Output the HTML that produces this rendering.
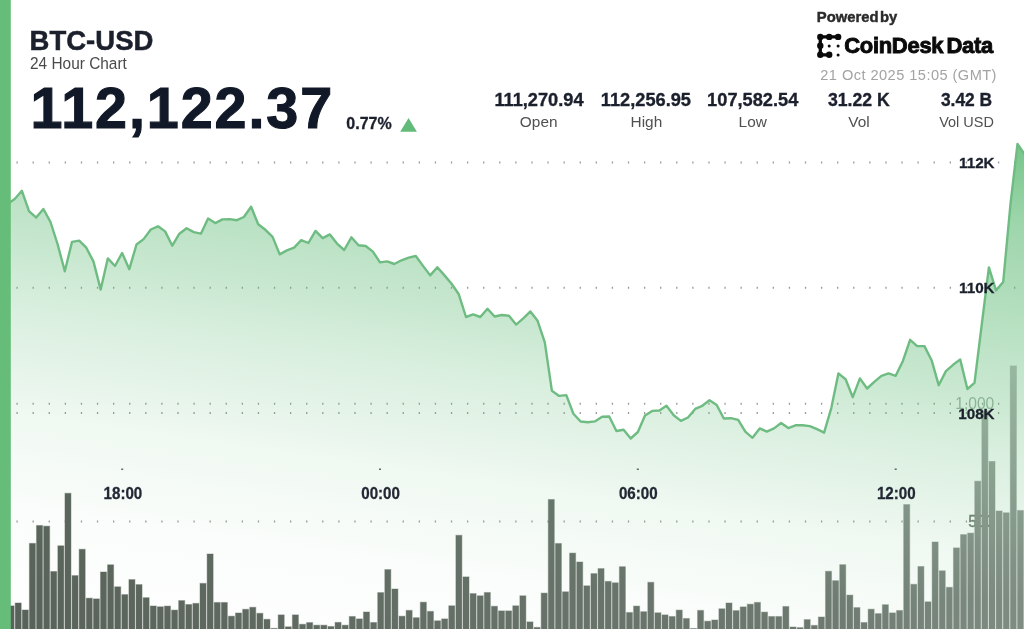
<!DOCTYPE html>
<html><head><meta charset="utf-8"><title>BTC-USD 24 Hour Chart</title>
<style>
html,body{margin:0;padding:0;background:#fff;}
body{width:1024px;height:629px;overflow:hidden;font-family:'Liberation Sans', Arial, sans-serif;}
svg{display:block;}
text{font-family:'Liberation Sans', Arial, sans-serif;}
.b{font-weight:700;}
</style></head><body>
<svg width="1024" height="629" viewBox="0 0 1024 629">
<defs>
<linearGradient id="ag" gradientUnits="userSpaceOnUse" x1="1017" y1="144" x2="930" y2="737">
<stop offset="0" stop-color="#5dba74" stop-opacity="0.84"/>
<stop offset="0.13" stop-color="#5dba74" stop-opacity="0.6"/>
<stop offset="0.4157" stop-color="#5dba74" stop-opacity="0.335"/>
<stop offset="0.514" stop-color="#5dba74" stop-opacity="0.232"/>
<stop offset="0.6135" stop-color="#5dba74" stop-opacity="0.155"/>
<stop offset="0.685" stop-color="#5dba74" stop-opacity="0.095"/>
<stop offset="0.845" stop-color="#5dba74" stop-opacity="0.03"/>
<stop offset="1" stop-color="#5dba74" stop-opacity="0.01"/>
</linearGradient>
<linearGradient id="bg" gradientUnits="userSpaceOnUse" x1="0" y1="0" x2="1024" y2="0">
<stop offset="0" stop-color="#586159"/>
<stop offset="0.8" stop-color="#6e7770"/>
<stop offset="1" stop-color="#808a82"/>
</linearGradient>
<linearGradient id="bw" gradientUnits="userSpaceOnUse" x1="0" y1="360" x2="0" y2="600">
<stop offset="0" stop-color="#fff" stop-opacity="0.28"/>
<stop offset="1" stop-color="#fff" stop-opacity="0"/>
</linearGradient>
</defs>
<rect width="1024" height="629" fill="#fff"/>
<!-- volume axis labels (behind bars) -->
<text x="994.3" y="409" text-anchor="end" font-size="15.6" fill="#9fb0a3">1,000</text>
<text x="994.3" y="527" text-anchor="end" font-size="15.6" fill="#6f7c71" stroke="#6f7c71" stroke-width="0.4">500</text>
<!-- grid -->
<line x1="16.450000000000003" y1="162.5" x2="1024" y2="162.5" stroke="#9a9a9a" stroke-width="2" stroke-dasharray="1.3 14.79"/>
<line x1="16.450000000000003" y1="287.7" x2="1024" y2="287.7" stroke="#9a9a9a" stroke-width="2" stroke-dasharray="1.3 14.79"/>
<line x1="16.450000000000003" y1="403.8" x2="1024" y2="403.8" stroke="#9a9a9a" stroke-width="2" stroke-dasharray="1.3 14.79"/>
<line x1="16.450000000000003" y1="413" x2="1024" y2="413" stroke="#9a9a9a" stroke-width="2" stroke-dasharray="1.3 14.79"/>
<line x1="16.450000000000003" y1="521.6" x2="1024" y2="521.6" stroke="#9a9a9a" stroke-width="2" stroke-dasharray="1.3 14.79"/>
<!-- bars -->
<g fill="url(#bg)" stroke="url(#bg)" stroke-opacity="0.38" stroke-width="1.1">
<rect x="8.09" y="605.9" width="6.0" height="34.1"/>
<rect x="15.20" y="603.0" width="6.0" height="37.0"/>
<rect x="22.31" y="610.0" width="6.0" height="30.0"/>
<rect x="29.42" y="543.4" width="6.0" height="96.6"/>
<rect x="36.52" y="525.5" width="6.0" height="114.5"/>
<rect x="43.63" y="526.2" width="6.0" height="113.8"/>
<rect x="50.74" y="571.5" width="6.0" height="68.5"/>
<rect x="57.85" y="545.8" width="6.0" height="94.2"/>
<rect x="64.96" y="493.3" width="6.0" height="146.7"/>
<rect x="72.06" y="575.6" width="6.0" height="64.4"/>
<rect x="79.17" y="549.3" width="6.0" height="90.7"/>
<rect x="86.28" y="598.2" width="6.0" height="41.8"/>
<rect x="93.39" y="598.9" width="6.0" height="41.1"/>
<rect x="100.50" y="572.0" width="6.0" height="68.0"/>
<rect x="107.60" y="564.8" width="6.0" height="75.2"/>
<rect x="114.71" y="586.8" width="6.0" height="53.2"/>
<rect x="121.82" y="594.6" width="6.0" height="45.4"/>
<rect x="128.93" y="579.6" width="6.0" height="60.4"/>
<rect x="136.04" y="584.6" width="6.0" height="55.4"/>
<rect x="143.14" y="597.7" width="6.0" height="42.3"/>
<rect x="150.25" y="606.0" width="6.0" height="34.0"/>
<rect x="157.36" y="606.8" width="6.0" height="33.2"/>
<rect x="164.47" y="606.1" width="6.0" height="33.9"/>
<rect x="171.58" y="610.1" width="6.0" height="29.9"/>
<rect x="178.68" y="600.6" width="6.0" height="39.4"/>
<rect x="185.79" y="604.5" width="6.0" height="35.5"/>
<rect x="192.90" y="603.4" width="6.0" height="36.6"/>
<rect x="200.01" y="583.4" width="6.0" height="56.6"/>
<rect x="207.12" y="554.0" width="6.0" height="86.0"/>
<rect x="214.22" y="602.5" width="6.0" height="37.5"/>
<rect x="221.33" y="602.5" width="6.0" height="37.5"/>
<rect x="228.44" y="616.2" width="6.0" height="23.8"/>
<rect x="235.55" y="613.0" width="6.0" height="27.0"/>
<rect x="242.66" y="609.3" width="6.0" height="30.7"/>
<rect x="249.76" y="607.3" width="6.0" height="32.7"/>
<rect x="256.87" y="613.3" width="6.0" height="26.7"/>
<rect x="263.98" y="619.3" width="6.0" height="20.7"/>
<rect x="271.09" y="628.4" width="6.0" height="11.6"/>
<rect x="278.20" y="614.9" width="6.0" height="25.1"/>
<rect x="285.30" y="626.8" width="6.0" height="13.2"/>
<rect x="292.41" y="614.9" width="6.0" height="25.1"/>
<rect x="299.52" y="624.3" width="6.0" height="15.7"/>
<rect x="306.63" y="622.6" width="6.0" height="17.4"/>
<rect x="313.74" y="625.2" width="6.0" height="14.8"/>
<rect x="320.84" y="625.2" width="6.0" height="14.8"/>
<rect x="327.95" y="626.5" width="6.0" height="13.5"/>
<rect x="335.06" y="622.4" width="6.0" height="17.6"/>
<rect x="342.17" y="625.2" width="6.0" height="14.8"/>
<rect x="349.28" y="616.5" width="6.0" height="23.5"/>
<rect x="356.38" y="618.9" width="6.0" height="21.1"/>
<rect x="363.49" y="612.0" width="6.0" height="28.0"/>
<rect x="370.60" y="622.5" width="6.0" height="17.5"/>
<rect x="377.71" y="592.6" width="6.0" height="47.4"/>
<rect x="384.82" y="569.6" width="6.0" height="70.4"/>
<rect x="391.92" y="589.0" width="6.0" height="51.0"/>
<rect x="399.03" y="616.2" width="6.0" height="23.8"/>
<rect x="406.14" y="610.4" width="6.0" height="29.6"/>
<rect x="413.25" y="617.7" width="6.0" height="22.3"/>
<rect x="420.36" y="602.2" width="6.0" height="37.8"/>
<rect x="427.46" y="611.4" width="6.0" height="28.6"/>
<rect x="434.57" y="620.8" width="6.0" height="19.2"/>
<rect x="441.68" y="618.9" width="6.0" height="21.1"/>
<rect x="448.79" y="605.8" width="6.0" height="34.2"/>
<rect x="455.90" y="535.3" width="6.0" height="104.7"/>
<rect x="463.00" y="576.9" width="6.0" height="63.1"/>
<rect x="470.11" y="593.6" width="6.0" height="46.4"/>
<rect x="477.22" y="595.8" width="6.0" height="44.2"/>
<rect x="484.33" y="592.5" width="6.0" height="47.5"/>
<rect x="491.44" y="606.3" width="6.0" height="33.7"/>
<rect x="498.54" y="610.9" width="6.0" height="29.1"/>
<rect x="505.65" y="610.9" width="6.0" height="29.1"/>
<rect x="512.76" y="605.8" width="6.0" height="34.2"/>
<rect x="519.87" y="595.8" width="6.0" height="44.2"/>
<rect x="526.98" y="621.9" width="6.0" height="18.1"/>
<rect x="534.08" y="627.4" width="6.0" height="12.6"/>
<rect x="541.19" y="593.1" width="6.0" height="46.9"/>
<rect x="548.30" y="499.5" width="6.0" height="140.5"/>
<rect x="555.41" y="543.5" width="6.0" height="96.5"/>
<rect x="562.52" y="591.8" width="6.0" height="48.2"/>
<rect x="569.62" y="553.1" width="6.0" height="86.9"/>
<rect x="576.73" y="562.0" width="6.0" height="78.0"/>
<rect x="583.84" y="585.8" width="6.0" height="54.2"/>
<rect x="590.95" y="573.6" width="6.0" height="66.4"/>
<rect x="598.06" y="568.6" width="6.0" height="71.4"/>
<rect x="605.16" y="581.4" width="6.0" height="58.6"/>
<rect x="612.27" y="582.8" width="6.0" height="57.2"/>
<rect x="619.38" y="566.7" width="6.0" height="73.3"/>
<rect x="626.49" y="612.5" width="6.0" height="27.5"/>
<rect x="633.60" y="606.1" width="6.0" height="33.9"/>
<rect x="640.70" y="611.7" width="6.0" height="28.3"/>
<rect x="647.81" y="582.3" width="6.0" height="57.7"/>
<rect x="654.92" y="612.8" width="6.0" height="27.2"/>
<rect x="662.03" y="614.9" width="6.0" height="25.1"/>
<rect x="669.14" y="616.5" width="6.0" height="23.5"/>
<rect x="676.24" y="610.1" width="6.0" height="29.9"/>
<rect x="683.35" y="618.5" width="6.0" height="21.5"/>
<rect x="690.46" y="628.5" width="6.0" height="11.5"/>
<rect x="697.57" y="610.4" width="6.0" height="29.6"/>
<rect x="704.68" y="621.2" width="6.0" height="18.8"/>
<rect x="711.78" y="620.0" width="6.0" height="20.0"/>
<rect x="718.89" y="608.8" width="6.0" height="31.2"/>
<rect x="726.00" y="603.0" width="6.0" height="37.0"/>
<rect x="733.11" y="610.6" width="6.0" height="29.4"/>
<rect x="740.22" y="606.9" width="6.0" height="33.1"/>
<rect x="747.32" y="604.2" width="6.0" height="35.8"/>
<rect x="754.43" y="602.4" width="6.0" height="37.6"/>
<rect x="761.54" y="612.1" width="6.0" height="27.9"/>
<rect x="768.65" y="616.5" width="6.0" height="23.5"/>
<rect x="775.76" y="616.5" width="6.0" height="23.5"/>
<rect x="782.86" y="606.5" width="6.0" height="33.5"/>
<rect x="789.97" y="627.0" width="6.0" height="13.0"/>
<rect x="797.08" y="627.6" width="6.0" height="12.4"/>
<rect x="804.19" y="619.6" width="6.0" height="20.4"/>
<rect x="811.30" y="625.4" width="6.0" height="14.6"/>
<rect x="818.40" y="617.0" width="6.0" height="23.0"/>
<rect x="825.51" y="571.3" width="6.0" height="68.7"/>
<rect x="832.62" y="580.7" width="6.0" height="59.3"/>
<rect x="839.73" y="564.7" width="6.0" height="75.3"/>
<rect x="846.84" y="595.1" width="6.0" height="44.9"/>
<rect x="853.94" y="607.6" width="6.0" height="32.4"/>
<rect x="861.05" y="622.5" width="6.0" height="17.5"/>
<rect x="868.16" y="609.2" width="6.0" height="30.8"/>
<rect x="875.27" y="613.6" width="6.0" height="26.4"/>
<rect x="882.38" y="604.7" width="6.0" height="35.3"/>
<rect x="889.48" y="612.9" width="6.0" height="27.1"/>
<rect x="896.59" y="610.5" width="6.0" height="29.5"/>
<rect x="903.70" y="504.6" width="6.0" height="135.4"/>
<rect x="910.81" y="584.3" width="6.0" height="55.7"/>
<rect x="917.92" y="566.5" width="6.0" height="73.5"/>
<rect x="925.02" y="601.8" width="6.0" height="38.2"/>
<rect x="932.13" y="542.0" width="6.0" height="98.0"/>
<rect x="939.24" y="570.8" width="6.0" height="69.2"/>
<rect x="946.35" y="587.3" width="6.0" height="52.7"/>
<rect x="953.46" y="547.9" width="6.0" height="92.1"/>
<rect x="960.56" y="534.6" width="6.0" height="105.4"/>
<rect x="967.67" y="533.1" width="6.0" height="106.9"/>
<rect x="974.78" y="481.2" width="6.0" height="158.8"/>
<rect x="981.89" y="411.0" width="6.0" height="229.0"/>
<rect x="989.00" y="461.5" width="6.0" height="178.5"/>
<rect x="996.10" y="511.0" width="6.0" height="129.0"/>
<rect x="1003.21" y="512.8" width="6.0" height="127.2"/>
<rect x="1010.32" y="366.0" width="6.0" height="274.0"/>
<rect x="1017.43" y="510.5" width="6.0" height="129.5"/>
</g>
<!-- area -->
<path d="M7.5,204.0 L14.7,199.0 L21.9,190.8 L29.0,211.2 L36.2,217.6 L43.4,209.0 L50.5,222.0 L57.7,244.5 L64.8,271.3 L72.0,241.9 L79.2,240.6 L86.3,247.7 L93.5,261.6 L100.7,289.6 L107.8,258.4 L115.0,266.0 L122.1,253.0 L129.3,269.2 L136.5,244.5 L143.6,239.1 L150.8,229.5 L158.0,226.3 L165.1,231.4 L172.3,245.7 L179.4,233.7 L186.6,228.2 L193.8,232.1 L200.9,233.7 L208.1,218.6 L215.3,223.1 L222.4,219.4 L229.6,219.1 L236.8,220.2 L243.9,217.0 L251.1,206.7 L258.2,224.2 L265.4,229.8 L272.6,236.9 L279.7,254.4 L286.9,250.4 L294.1,247.6 L301.2,240.2 L308.4,243.0 L315.5,230.9 L322.7,238.1 L329.9,234.4 L337.0,243.6 L344.2,250.0 L351.4,237.3 L358.5,245.2 L365.7,246.0 L372.9,251.6 L380.0,262.4 L387.2,261.4 L394.3,264.0 L401.5,260.3 L408.7,257.6 L415.8,256.0 L423.0,265.9 L430.2,275.4 L437.3,267.2 L444.5,275.4 L451.6,283.8 L458.8,294.3 L466.0,317.0 L473.1,314.4 L480.3,317.0 L487.5,308.8 L494.6,316.5 L501.8,315.0 L508.9,315.7 L516.1,324.6 L523.3,318.3 L530.4,311.4 L537.6,320.8 L544.8,342.4 L551.9,390.8 L559.1,395.9 L566.3,395.1 L573.4,413.7 L580.6,421.5 L587.7,422.3 L594.9,421.4 L602.1,416.7 L609.2,416.5 L616.4,431.0 L623.6,429.8 L630.7,438.5 L637.9,432.0 L645.0,415.6 L652.2,410.9 L659.4,410.5 L666.5,405.8 L673.7,415.2 L680.9,420.9 L688.0,417.5 L695.2,408.9 L702.3,405.8 L709.5,400.3 L716.7,405.0 L723.8,418.5 L731.0,418.2 L738.2,419.8 L745.3,431.6 L752.5,437.8 L759.7,428.4 L766.8,431.6 L774.0,428.4 L781.1,423.0 L788.3,428.1 L795.5,425.3 L802.6,425.3 L809.8,426.1 L817.0,429.2 L824.1,432.7 L831.3,408.1 L838.4,373.4 L845.6,379.2 L852.8,397.2 L859.9,378.4 L867.1,388.5 L874.3,381.8 L881.4,375.8 L888.6,373.4 L895.7,375.8 L902.9,360.9 L910.1,339.8 L917.2,346.1 L924.4,346.1 L931.6,360.2 L938.7,385.2 L945.9,371.1 L953.1,364.8 L960.2,359.4 L967.4,389.0 L974.5,382.8 L981.7,325.0 L988.9,267.4 L996.0,290.4 L1003.2,282.0 L1010.4,205.0 L1017.5,144.0 L1024.7,154.5 L1024.7,640 L7.5,640 Z" fill="url(#ag)"/>
<g fill="url(#bw)">
<rect x="726.00" y="603.0" width="6.0" height="37.0"/>
<rect x="733.11" y="610.6" width="6.0" height="29.4"/>
<rect x="740.22" y="606.9" width="6.0" height="33.1"/>
<rect x="747.32" y="604.2" width="6.0" height="35.8"/>
<rect x="754.43" y="602.4" width="6.0" height="37.6"/>
<rect x="761.54" y="612.1" width="6.0" height="27.9"/>
<rect x="768.65" y="616.5" width="6.0" height="23.5"/>
<rect x="775.76" y="616.5" width="6.0" height="23.5"/>
<rect x="782.86" y="606.5" width="6.0" height="33.5"/>
<rect x="789.97" y="627.0" width="6.0" height="13.0"/>
<rect x="797.08" y="627.6" width="6.0" height="12.4"/>
<rect x="804.19" y="619.6" width="6.0" height="20.4"/>
<rect x="811.30" y="625.4" width="6.0" height="14.6"/>
<rect x="818.40" y="617.0" width="6.0" height="23.0"/>
<rect x="825.51" y="571.3" width="6.0" height="68.7"/>
<rect x="832.62" y="580.7" width="6.0" height="59.3"/>
<rect x="839.73" y="564.7" width="6.0" height="75.3"/>
<rect x="846.84" y="595.1" width="6.0" height="44.9"/>
<rect x="853.94" y="607.6" width="6.0" height="32.4"/>
<rect x="861.05" y="622.5" width="6.0" height="17.5"/>
<rect x="868.16" y="609.2" width="6.0" height="30.8"/>
<rect x="875.27" y="613.6" width="6.0" height="26.4"/>
<rect x="882.38" y="604.7" width="6.0" height="35.3"/>
<rect x="889.48" y="612.9" width="6.0" height="27.1"/>
<rect x="896.59" y="610.5" width="6.0" height="29.5"/>
<rect x="903.70" y="504.6" width="6.0" height="135.4"/>
<rect x="910.81" y="584.3" width="6.0" height="55.7"/>
<rect x="917.92" y="566.5" width="6.0" height="73.5"/>
<rect x="925.02" y="601.8" width="6.0" height="38.2"/>
<rect x="932.13" y="542.0" width="6.0" height="98.0"/>
<rect x="939.24" y="570.8" width="6.0" height="69.2"/>
<rect x="946.35" y="587.3" width="6.0" height="52.7"/>
<rect x="953.46" y="547.9" width="6.0" height="92.1"/>
<rect x="960.56" y="534.6" width="6.0" height="105.4"/>
<rect x="967.67" y="533.1" width="6.0" height="106.9"/>
<rect x="974.78" y="481.2" width="6.0" height="158.8"/>
<rect x="981.89" y="411.0" width="6.0" height="229.0"/>
<rect x="989.00" y="461.5" width="6.0" height="178.5"/>
<rect x="996.10" y="511.0" width="6.0" height="129.0"/>
<rect x="1003.21" y="512.8" width="6.0" height="127.2"/>
<rect x="1010.32" y="366.0" width="6.0" height="274.0"/>
<rect x="1017.43" y="510.5" width="6.0" height="129.5"/>
</g>
<path d="M7.5,204.0 L14.7,199.0 L21.9,190.8 L29.0,211.2 L36.2,217.6 L43.4,209.0 L50.5,222.0 L57.7,244.5 L64.8,271.3 L72.0,241.9 L79.2,240.6 L86.3,247.7 L93.5,261.6 L100.7,289.6 L107.8,258.4 L115.0,266.0 L122.1,253.0 L129.3,269.2 L136.5,244.5 L143.6,239.1 L150.8,229.5 L158.0,226.3 L165.1,231.4 L172.3,245.7 L179.4,233.7 L186.6,228.2 L193.8,232.1 L200.9,233.7 L208.1,218.6 L215.3,223.1 L222.4,219.4 L229.6,219.1 L236.8,220.2 L243.9,217.0 L251.1,206.7 L258.2,224.2 L265.4,229.8 L272.6,236.9 L279.7,254.4 L286.9,250.4 L294.1,247.6 L301.2,240.2 L308.4,243.0 L315.5,230.9 L322.7,238.1 L329.9,234.4 L337.0,243.6 L344.2,250.0 L351.4,237.3 L358.5,245.2 L365.7,246.0 L372.9,251.6 L380.0,262.4 L387.2,261.4 L394.3,264.0 L401.5,260.3 L408.7,257.6 L415.8,256.0 L423.0,265.9 L430.2,275.4 L437.3,267.2 L444.5,275.4 L451.6,283.8 L458.8,294.3 L466.0,317.0 L473.1,314.4 L480.3,317.0 L487.5,308.8 L494.6,316.5 L501.8,315.0 L508.9,315.7 L516.1,324.6 L523.3,318.3 L530.4,311.4 L537.6,320.8 L544.8,342.4 L551.9,390.8 L559.1,395.9 L566.3,395.1 L573.4,413.7 L580.6,421.5 L587.7,422.3 L594.9,421.4 L602.1,416.7 L609.2,416.5 L616.4,431.0 L623.6,429.8 L630.7,438.5 L637.9,432.0 L645.0,415.6 L652.2,410.9 L659.4,410.5 L666.5,405.8 L673.7,415.2 L680.9,420.9 L688.0,417.5 L695.2,408.9 L702.3,405.8 L709.5,400.3 L716.7,405.0 L723.8,418.5 L731.0,418.2 L738.2,419.8 L745.3,431.6 L752.5,437.8 L759.7,428.4 L766.8,431.6 L774.0,428.4 L781.1,423.0 L788.3,428.1 L795.5,425.3 L802.6,425.3 L809.8,426.1 L817.0,429.2 L824.1,432.7 L831.3,408.1 L838.4,373.4 L845.6,379.2 L852.8,397.2 L859.9,378.4 L867.1,388.5 L874.3,381.8 L881.4,375.8 L888.6,373.4 L895.7,375.8 L902.9,360.9 L910.1,339.8 L917.2,346.1 L924.4,346.1 L931.6,360.2 L938.7,385.2 L945.9,371.1 L953.1,364.8 L960.2,359.4 L967.4,389.0 L974.5,382.8 L981.7,325.0 L988.9,267.4 L996.0,290.4 L1003.2,282.0 L1010.4,205.0 L1017.5,144.0 L1024.7,154.5" fill="none" stroke="#6fbc83" stroke-width="2.4" stroke-linejoin="round"/>
<!-- left bar -->
<rect x="0" y="0" width="10.8" height="629" fill="#66bd79"/>
<!-- price labels -->
<text class="b" transform="translate(994.6,168.1) scale(0.995,1)" text-anchor="end" font-size="15.3" fill="#1b202c" stroke="#1b202c" stroke-width="0.3">112K</text>
<text class="b" transform="translate(994.6,293.3) scale(0.995,1)" text-anchor="end" font-size="15.3" fill="#1b202c" stroke="#1b202c" stroke-width="0.3">110K</text>
<text class="b" transform="translate(994.6,418.6) scale(0.995,1)" text-anchor="end" font-size="15.3" fill="#1b202c" stroke="#1b202c" stroke-width="0.3">108K</text>
<!-- time labels -->
<text class="b" transform="translate(122.9,499.2) scale(0.88,1)" text-anchor="middle" font-size="17.2" fill="#222834" stroke="#222834" stroke-width="0.3">18:00</text>
<text class="b" transform="translate(380.6,499.2) scale(0.88,1)" text-anchor="middle" font-size="17.2" fill="#222834" stroke="#222834" stroke-width="0.3">00:00</text>
<text class="b" transform="translate(638.3,499.2) scale(0.88,1)" text-anchor="middle" font-size="17.2" fill="#222834" stroke="#222834" stroke-width="0.3">06:00</text>
<text class="b" transform="translate(896.3,499.2) scale(0.88,1)" text-anchor="middle" font-size="17.2" fill="#222834" stroke="#222834" stroke-width="0.3">12:00</text>
<g fill="#444">
<rect x="121.2" y="468.6" width="2" height="1.2"/>
<rect x="379" y="468.6" width="2" height="1.2"/>
<rect x="636.8" y="468.6" width="2" height="1.2"/>
<rect x="894.7" y="468.6" width="2" height="1.2"/>
</g>
<!-- header -->
<text class="b" transform="translate(29.6,49.8) scale(1,1)" text-anchor="start" font-size="27.5" fill="#1b202c" stroke="#1b202c" stroke-width="0.5">BTC-USD</text>
<text transform="translate(30.0,68.7) scale(0.97,1)" text-anchor="start" font-size="15.9" fill="#4a4a4a">24 Hour Chart</text>
<text class="b" x="30.5" y="127.7" font-size="57.5" fill="#111827" stroke="#111827" stroke-width="1.1" letter-spacing="1.9">112,122.37</text>
<text class="b" transform="translate(346.3,128.9) scale(1.0,1)" text-anchor="start" font-size="16" fill="#1b202c" stroke="#1b202c" stroke-width="0.3">0.77%</text>
<path d="M400.2,131.7 L408.55,117.9 L416.9,131.7 Z" fill="#62bb78"/>
<!-- stats -->
<text class="b" transform="translate(539,105.6) scale(0.985,1)" text-anchor="middle" font-size="18.5" fill="#1b202c" stroke="#1b202c" stroke-width="0.35">111,270.94</text>
<text class="b" transform="translate(645.9,105.6) scale(0.985,1)" text-anchor="middle" font-size="18.5" fill="#1b202c" stroke="#1b202c" stroke-width="0.35">112,256.95</text>
<text class="b" transform="translate(752.7,105.6) scale(0.985,1)" text-anchor="middle" font-size="18.5" fill="#1b202c" stroke="#1b202c" stroke-width="0.35">107,582.54</text>
<text class="b" transform="translate(858.8,105.6) scale(0.955,1)" text-anchor="middle" font-size="18.5" fill="#1b202c" stroke="#1b202c" stroke-width="0.35">31.22 K</text>
<text class="b" transform="translate(966.5,105.6) scale(0.94,1)" text-anchor="middle" font-size="18.5" fill="#1b202c" stroke="#1b202c" stroke-width="0.35">3.42 B</text>
<text transform="translate(538.7,127.2) scale(1,1)" text-anchor="middle" font-size="15.4" fill="#505050">Open</text>
<text transform="translate(646.4,127.2) scale(1,1)" text-anchor="middle" font-size="15.4" fill="#505050">High</text>
<text transform="translate(752.7,127.2) scale(1,1)" text-anchor="middle" font-size="15.4" fill="#505050">Low</text>
<text transform="translate(859,127.2) scale(1,1)" text-anchor="middle" font-size="15.4" fill="#505050">Vol</text>
<text transform="translate(966.5,127.2) scale(0.94,1)" text-anchor="middle" font-size="15.4" fill="#505050">Vol USD</text>
<!-- powered by -->
<text class="b" transform="translate(816.8,21.9) scale(0.975,1)" font-size="15.2" fill="#2b2b2b" stroke="#2b2b2b" stroke-width="0.45" word-spacing="-2.8">Powered by</text>
<g fill="#0a0a0a" stroke="#0a0a0a">
<path d="M838.1,36.9 L820.3,36.9 L820.3,54.8 L829.2,54.8" fill="none" stroke-width="3.3" stroke-linejoin="round" stroke-linecap="round"/>
<g stroke="none">
<circle cx="820.3" cy="36.9" r="3.2"/><circle cx="829.2" cy="36.9" r="3.2"/><circle cx="838.1" cy="36.9" r="3.2"/>
<circle cx="820.3" cy="45.8" r="3.2"/><circle cx="820.3" cy="54.8" r="3.2"/><circle cx="829.2" cy="54.8" r="3.2"/>
<circle cx="829.2" cy="46" r="1.5"/><circle cx="838.1" cy="46" r="1.5"/><circle cx="838.1" cy="55" r="1.5"/>
</g></g>
<text class="b" x="844.2" y="53.2" font-size="22" fill="#0a0a0a" stroke="#0a0a0a" stroke-width="0.9" letter-spacing="-0.3" word-spacing="-2.6">CoinDesk Data</text>
<text x="820.3" y="80" font-size="14.6" fill="#a3a3a3" letter-spacing="0.45">21 Oct 2025 15:05 (GMT)</text>
</svg>
</body></html>
